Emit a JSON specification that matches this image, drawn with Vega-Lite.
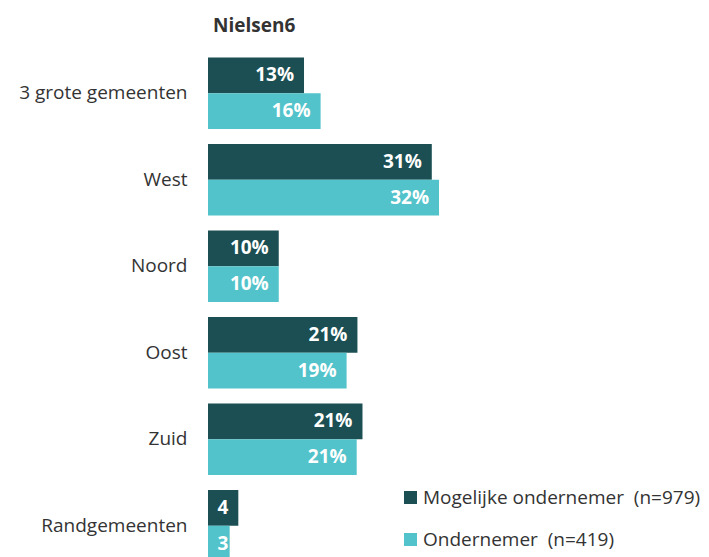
{
  "$schema": "https://vega.github.io/schema/vega-lite/v6.json",
  "width": 501,
  "height": 519,
  "autosize": {"type": "none"},
  "padding": {"left": 208, "top": 50, "right": 0, "bottom": 10},
  "background": "white",
  "title": {
    "text": "Nielsen6",
    "anchor": "start",
    "frame": "group",
    "fontSize": 19,
    "fontWeight": "bold",
    "font": "Open Sans",
    "color": "#333333",
    "dx": 5,
    "offset": 14
  },
  "data": {
    "values": [
      {"cat": "3 grote gemeenten", "series": "Mogelijke ondernemer\u00a0 (n=979)", "value": 0.133},
      {"cat": "3 grote gemeenten", "series": "Ondernemer\u00a0 (n=419)", "value": 0.156},
      {"cat": "West", "series": "Mogelijke ondernemer\u00a0 (n=979)", "value": 0.31},
      {"cat": "West", "series": "Ondernemer\u00a0 (n=419)", "value": 0.32},
      {"cat": "Noord", "series": "Mogelijke ondernemer\u00a0 (n=979)", "value": 0.098},
      {"cat": "Noord", "series": "Ondernemer\u00a0 (n=419)", "value": 0.098},
      {"cat": "Oost", "series": "Mogelijke ondernemer\u00a0 (n=979)", "value": 0.207},
      {"cat": "Oost", "series": "Ondernemer\u00a0 (n=419)", "value": 0.192},
      {"cat": "Zuid", "series": "Mogelijke ondernemer\u00a0 (n=979)", "value": 0.214},
      {"cat": "Zuid", "series": "Ondernemer\u00a0 (n=419)", "value": 0.206},
      {"cat": "Randgemeenten", "series": "Mogelijke ondernemer\u00a0 (n=979)", "value": 0.042},
      {"cat": "Randgemeenten", "series": "Ondernemer\u00a0 (n=419)", "value": 0.03}
    ]
  },
  "encoding": {
    "y": {
      "field": "cat",
      "type": "nominal",
      "sort": null,
      "scale": {"paddingInner": 0.175, "paddingOuter": 0.0875},
      "axis": {
        "title": null,
        "domain": false,
        "ticks": false,
        "labelFont": "Open Sans",
        "labelFontSize": 19,
        "labelColor": "#333333",
        "labelPadding": 21,
        "labelLimit": 300
      }
    },
    "yOffset": {"field": "series", "type": "nominal", "sort": null, "scale": {"paddingInner": 0, "paddingOuter": 0}}
  },
  "layer": [
    {
      "mark": {"type": "bar", "cornerRadius": 0},
      "encoding": {
        "x": {"field": "value", "type": "quantitative", "scale": {"domain": [0, 0.694], "nice": false}, "axis": null},
        "color": {
          "field": "series",
          "type": "nominal",
          "sort": null,
          "scale": {"range": ["#1b4f53", "#52c3ca"]},
          "legend": {
            "title": null,
            "orient": "none",
            "legendX": 193,
            "legendY": 438,
            "direction": "vertical",
            "symbolType": "square",
            "symbolSize": 170,
            "symbolStrokeWidth": 0,
            "labelFont": "Open Sans",
            "labelFontSize": 19,
            "labelColor": "#333333",
            "labelOffset": 3,
            "labelLimit": 400,
            "rowPadding": 22,
            "padding": 0
          }
        }
      }
    },
    {
      "transform": [{"filter": "datum.value >= 0.08"}],
      "mark": {"type": "text", "align": "right", "baseline": "middle", "dx": -10, "font": "Open Sans", "fontSize": 19, "fontWeight": "bold", "color": "white"},
      "encoding": {
        "x": {"field": "value", "type": "quantitative"},
        "text": {"field": "value", "type": "quantitative", "format": ".0%"}
      }
    },
    {
      "transform": [{"filter": "datum.value < 0.08"}],
      "mark": {"type": "text", "align": "left", "baseline": "middle", "font": "Open Sans", "fontSize": 19, "fontWeight": "bold", "color": "white", "ellipsis": "\u200b", "limit": {"expr": "scale('x', datum.value) - scale('x', 0.013)"}},
      "encoding": {
        "x": {"datum": 0.013, "type": "quantitative"},
        "text": {"field": "value", "type": "quantitative", "format": ".0%"}
      }
    }
  ],
  "config": {"view": {"stroke": null}}
}
